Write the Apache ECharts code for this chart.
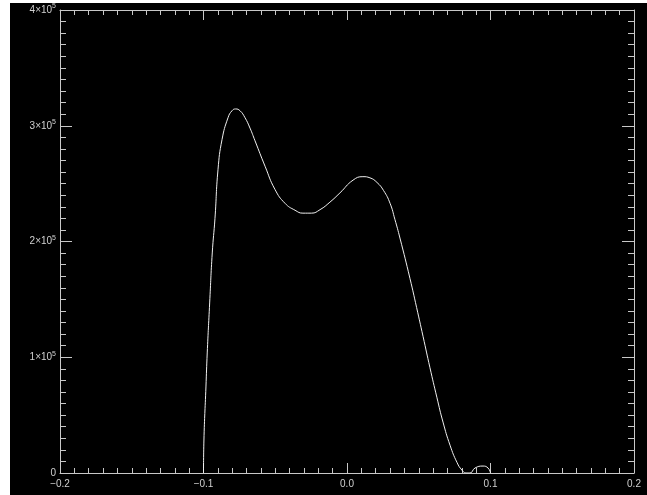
<!DOCTYPE html>
<html>
<head>
<meta charset="utf-8">
<script src="https://cdn.jsdelivr.net/npm/echarts@6/dist/echarts.min.js"></script>
<style>
  html, body { margin: 0; padding: 0; background: #ffffff; }
  #wrap { position: relative; width: 647px; height: 495px; background: #ffffff; }
  #chart { position: absolute; left: 10px; top: 3px; width: 637px; height: 492px; background: #000000; }
</style>
</head>
<body>
<div id="wrap"><div id="chart"></div></div>
<script>
// Distribution curve samples (x, value)
const xValues = [-0.1, -0.0997, -0.0983, -0.0974, -0.0957, -0.0939, -0.0920, -0.0899, -0.0871,
  -0.0829, -0.0801, -0.0776, -0.0746, -0.0711, -0.0676, -0.0641, -0.0571, -0.0502, -0.0432,
  -0.0362, -0.0307, -0.0248, -0.0188, -0.0119, -0.0049, 0.0042, 0.0111, 0.0160, 0.0209,
  0.0255, 0.0300, 0.0334, 0.0369, 0.0439, 0.0485, 0.0530, 0.0578, 0.0627, 0.0669, 0.0718,
  0.0767, 0.0801, 0.0829, 0.0857, 0.0892, 0.0948, 0.0983, 0.1];
const yValues = [0, 28500, 74300, 103700, 146900, 190100, 220000, 262000, 288000,
  307000, 313000, 314500, 313000, 307000, 298000, 287000, 265000, 245000, 233000,
  227000, 224500, 224500, 227500, 234000, 242000, 253000, 256000, 255000, 251000,
  244000, 233000, 219000, 203000, 168000, 143000, 118000, 91000, 65000, 44000, 24000,
  9000, 2500, 0, 0, 4300, 6000, 4300, 0];

// Axis tick labels
const xTickLabels = { '-0.2': '−0.2', '-0.1': '−0.1', '0': '0.0', '0.1': '0.1', '0.2': '0.2' };
const yTickLabels = { 0: '{b|0}', 100000: '{b|1×10}{s|5}', 200000: '{b|2×10}{s|5}',
  300000: '{b|3×10}{s|5}', 400000: '{b|4×10}{s|5}' };

const points = xValues.map((x, i) => [x, yValues[i]]);

const axisColor = '#c8c8c8';
const labelFont = { fontFamily: 'Liberation Sans, Arial, sans-serif', fontSize: 10, color: '#d0d0d0' };

function xAxisDef(pos, showLabel) {
  return {
    type: 'value', position: pos, min: -0.2, max: 0.2, interval: 0.1,
    axisLine: { show: true, onZero: false, lineStyle: { color: axisColor, width: 1 } },
    axisTick: { show: true, inside: true, length: 10, lineStyle: { color: axisColor } },
    minorTick: { show: true, splitNumber: 10, length: 5, lineStyle: { color: axisColor } },
    splitLine: { show: false },
    axisLabel: Object.assign({ show: showLabel, margin: 6,
      formatter: v => xTickLabels[String(Math.round(v * 10) / 10)] || '' }, labelFont)
  };
}
function yAxisDef(pos, showLabel) {
  return {
    type: 'value', position: pos, min: 0, max: 400000, interval: 100000,
    axisLine: { show: true, onZero: false, lineStyle: { color: axisColor, width: 1 } },
    axisTick: { show: true, inside: true, length: 12, lineStyle: { color: axisColor } },
    minorTick: { show: true, splitNumber: 10, length: 6, lineStyle: { color: axisColor } },
    splitLine: { show: false },
    axisLabel: Object.assign({ show: showLabel, margin: 4,
      formatter: v => yTickLabels[Math.round(v)] || '',
      rich: {
        b: Object.assign({}, labelFont),
        s: { fontFamily: labelFont.fontFamily, fontSize: 7, color: labelFont.color, padding: [0, 0, 7, 0] }
      } }, labelFont)
  };
}

const chart = echarts.init(document.getElementById('chart'), null, { renderer: 'canvas' });
chart.setOption({
  backgroundColor: '#000000',
  animation: false,
  grid: { left: 50, right: 13, top: 7, bottom: 22 },
  xAxis: [xAxisDef('bottom', true), xAxisDef('top', false)],
  yAxis: [yAxisDef('left', true), yAxisDef('right', false)],
  series: [{
    type: 'line', xAxisIndex: 0, yAxisIndex: 0,
    data: points, smooth: 0.5, showSymbol: false,
    lineStyle: { color: '#f0f0f0', width: 1 }
  }]
});
</script>
</body>
</html>
